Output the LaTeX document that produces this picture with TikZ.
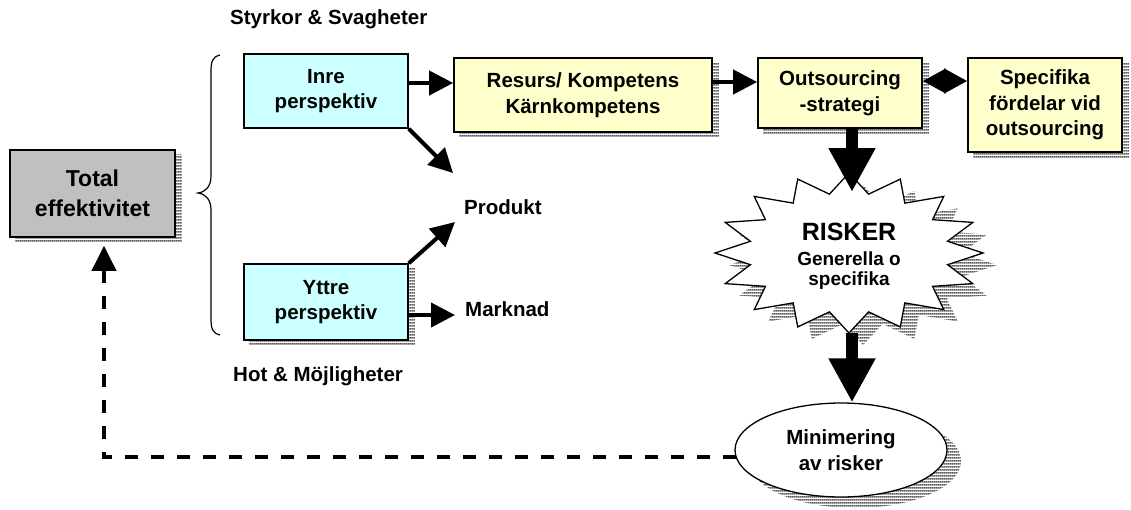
\documentclass[tikz,border=0pt]{standalone}
\usepackage{fontspec}
\setmainfont{Liberation Sans}
\usetikzlibrary{arrows.meta,shapes.geometric,patterns}

\pgfdeclarelayer{background}
\pgfsetlayers{background,main}

% horizontal gray stripes used for the cast shadows
\pgfdeclarepatternformonly{hstripes}{\pgfpointorigin}{\pgfpoint{2pt}{3pt}}{\pgfpoint{2pt}{3pt}}{%
  \pgfsetlinewidth{2.1pt}%
  \pgfpathmoveto{\pgfpoint{-0.5pt}{1.5pt}}%
  \pgfpathlineto{\pgfpoint{2.5pt}{1.5pt}}%
  \pgfusepath{stroke}}

\definecolor{boxcyan}{HTML}{CCFFFF}
\definecolor{boxyellow}{HTML}{FFFFCC}
\definecolor{boxgray}{HTML}{C0C0C0}
\definecolor{shadegray}{HTML}{5A5A5A}

\tikzset{
  txt/.style={font=\bfseries\fontsize{20.5}{25.5}\selectfont, align=center},
  lbl/.style={txt, inner sep=0pt},
  box/.style={txt, draw, line width=1.6pt, inner sep=0pt, rectangle},
  stripes/.style={pattern=hstripes, pattern color=shadegray},
  arr/.style={line width=4pt, -{Triangle[length=24pt,width=24pt]}},
  blockarr/.style={line width=12pt, -{Triangle[length=44pt,width=44pt]}},
  diam/.style={line width=4pt, {Triangle[length=23pt,width=24pt]}-{Triangle[length=23pt,width=24pt]}},
  dasharr/.style={line width=4pt, dash pattern=on 13pt off 13pt, -{Triangle[length=25pt,width=24pt]}},
}

\begin{document}
\begin{tikzpicture}[x=1pt,y=-1pt]
\useasboundingbox (0,0) rectangle (1131,509);

% boxes
\node[box, fill=boxgray, minimum width=165pt, minimum height=87pt,
      font=\bfseries\fontsize{23}{30}\selectfont] (total) at (92.5,193.5) {Total\\effektivitet};
\node[box, fill=boxcyan, minimum width=164pt, minimum height=74pt] (inre) at (326,91) {Inre\\perspektiv};
\node[box, fill=boxcyan, minimum width=164pt, minimum height=76pt] (yttre) at (326,302) {Yttre\\perspektiv};
\node[box, fill=boxyellow, minimum width=258pt, minimum height=74pt] (res) at (583,95) {Resurs/ Kompetens\\Kärnkompetens};
\node[box, fill=boxyellow, minimum width=164pt, minimum height=70pt] (out) at (840,93) {Outsourcing\\-strategi};
\node[box, fill=boxyellow, minimum width=154pt, minimum height=94pt] (spec) at (1045,105) {Specifika\\fördelar vid\\outsourcing};

% risk star with its shadow
\begin{scope}[shift={(863,265)}, xscale=1.34, yscale=0.8]
  \fill[stripes] (90:100pt) \foreach \k in {0,...,15} { -- ({90+\k*22.5}:100pt) -- ({101.25+\k*22.5}:75pt) } -- cycle;
\end{scope}
\begin{scope}[shift={(849,253)}, xscale=1.34, yscale=0.8]
  \draw[fill=white, line width=1.3pt, line join=miter] (90:100pt) \foreach \k in {0,...,15} { -- ({90+\k*22.5}:100pt) -- ({101.25+\k*22.5}:75pt) } -- cycle;
\end{scope}
\node[align=center, inner sep=0pt, font=\bfseries\fontsize{19}{20}\selectfont] (risk) at (849,256)
  {{\fontsize{25}{28}\selectfont RISKER}\\[5pt]Generella o\\specifika};

% minimising ellipse
\node[draw, fill=white, line width=1.3pt, ellipse, minimum width=212pt, minimum height=94pt,
      inner sep=0pt, txt] (min) at (841,450) {Minimering\\av risker};

% shadows behind boxes and ellipse
\begin{pgfonlayer}{background}
  \foreach \n in {total,yttre,res,out,spec}
    \fill[stripes] ([shift={(6,5)}]\n.south west) rectangle ([shift={(6,5)}]\n.north east);
  \fill[stripes] ([shift={(14,11)}]min.center) ellipse [x radius=106pt, y radius=47pt];
\end{pgfonlayer}

% side labels
\node[lbl, anchor=west] (sw) at (230,19) {Styrkor \& Svagheter};
\node[lbl, anchor=west] (hm) at (233,376) {Hot \& Möjligheter};
\node[lbl, anchor=west] (prod) at (464,207) {Produkt};
\node[lbl, anchor=west] (mark) at (465,309) {Marknad};

% brace grouping the two perspectives
\draw[line width=1.2pt] (220,55) .. controls (212,57) and (211,62) .. (211,72) -- (211,176)
  .. controls (211,186) and (206,192) .. (198,193)
  .. controls (206,194) and (211,200) .. (211,210) -- (211,318)
  .. controls (211,328) and (212,333) .. (220,335);

% connector end points
\coordinate (r1) at (0,83);
\coordinate (r2) at (0,82);
\coordinate (r3) at (0,81);
\coordinate (pa) at (453,173);
\coordinate (pb) at (455,222);
\coordinate (mk) at (455,315);
\coordinate (st) at (852,192);
\coordinate (sb) at (852,333);

% connectors
\draw[arr] (inre.east |- r1) -- (res.west |- r1);
\draw[arr] (res.east |- r2) -- (out.west |- r2);
\draw[diam] (out.east |- r3) -- (spec.west |- r3);
\draw[arr] (inre.south east) -- (pa);
\draw[arr] (yttre.north east) -- (pb);
\draw[arr] (yttre.east |- mk) -- (mk);
\draw[blockarr] (out.south -| st) -- (st);
\draw[blockarr] (sb) -- (min.north -| sb);
\draw[dasharr] (min.184) -| ([xshift=11.5pt,yshift=-8pt]total.south);
\end{tikzpicture}
\end{document}
